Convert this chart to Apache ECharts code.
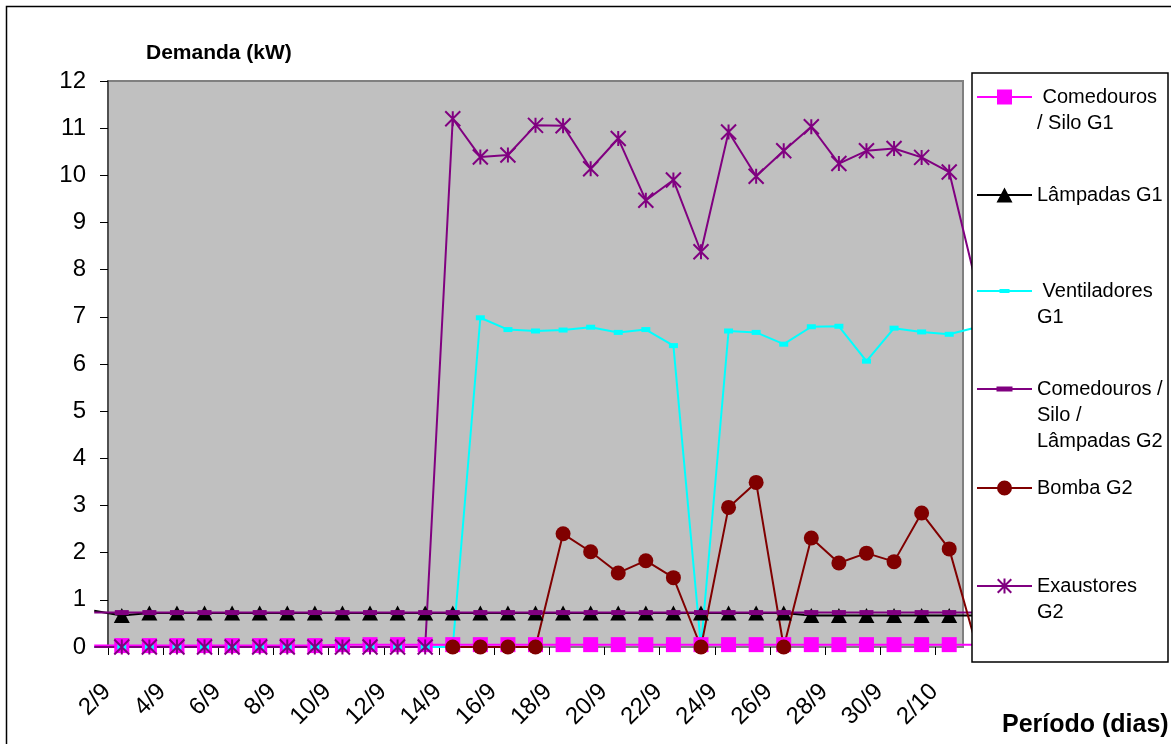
<!DOCTYPE html>
<html>
<head>
<meta charset="utf-8">
<script src="https://cdn.jsdelivr.net/npm/echarts@6/dist/echarts.min.js"></script>
<style>
html,body{margin:0;padding:0;background:#fff;}
#chart{width:1171px;height:744px;}
</style>
</head>
<body>
<div id="chart"></div>
<script>
// Dates: 1/9 and 3/10 are the neighbouring days just outside the visible frame
const dates = ['1/9','2/9','3/9','4/9','5/9','6/9','7/9','8/9','9/9','10/9','11/9','12/9','13/9','14/9','15/9','16/9','17/9','18/9','19/9','20/9','21/9','22/9','23/9','24/9','25/9','26/9','27/9','28/9','29/9','30/9','1/10','2/10','3/10'];
const labelDates = ['2/9','4/9','6/9','8/9','10/9','12/9','14/9','16/9','18/9','20/9','22/9','24/9','26/9','28/9','30/9','2/10'];

const comedourosG1 = [
  0.03,                                                        // 1/9
  0.03, 0.03, 0.03, 0.03, 0.03, 0.03, 0.03, 0.03,              // 2/9-9/9
  0.05, 0.05, 0.05, 0.05, 0.05, 0.05, 0.05, 0.05, 0.05, 0.05,  // 10/9-19/9
  0.05, 0.05, 0.05, 0.05, 0.05, 0.05, 0.05, 0.05, 0.05, 0.05,  // 20/9-29/9
  0.05, 0.05, 0.05,                                            // 30/9-2/10
  0.05                                                         // 3/10
];
const lampadasG1 = [
  0.77,                                                        // 1/9
  0.67, 0.72, 0.72, 0.72, 0.72, 0.72, 0.72, 0.72, 0.72,        // 2/9-10/9
  0.72, 0.72, 0.72, 0.72, 0.72, 0.72, 0.72, 0.72, 0.72, 0.72,  // 11/9-20/9
  0.72, 0.72, 0.72, 0.72, 0.72, 0.72,                          // 21/9-26/9
  0.67, 0.67, 0.67, 0.67,                                      // 27/9-30/9
  0.67, 0.67,                                                  // 1/10-2/10
  0.67                                                         // 3/10
];
const ventiladoresG1 = [
  0,                                                           // 1/9
  0, 0, 0, 0, 0, 0, 0, 0, 0, 0,                                // 2/9-11/9
  0, 0, 0,                                                     // 12/9-14/9
  6.98, 6.73, 6.70, 6.72, 6.78, 6.67, 6.73, 6.39,              // 15/9-22/9
  0,                                                           // 23/9
  6.70, 6.67, 6.42, 6.79, 6.80, 6.06, 6.76,                    // 24/9-30/9
  6.68, 6.63,                                                  // 1/10-2/10
  6.78                                                         // 3/10
];
const comedourosG2 = [
  0.73,                                                        // 1/9
  0.73, 0.73, 0.73, 0.73, 0.73, 0.73, 0.73, 0.73, 0.73, 0.73,  // 2/9-11/9
  0.73, 0.73, 0.73, 0.73, 0.73, 0.73, 0.73, 0.73, 0.73, 0.73,  // 12/9-21/9
  0.73, 0.73, 0.73, 0.73, 0.73, 0.73, 0.73, 0.73, 0.73,        // 22/9-30/9
  0.73, 0.73,                                                  // 1/10-2/10
  0.73                                                         // 3/10
];
const bombaG2 = [
  null,                                                        // 1/9
  null, null, null, null, null, null, null, null, null, null,  // 2/9-11/9
  null, null,                                                  // 12/9-13/9
  0, 0, 0, 0,                                                  // 14/9-17/9
  2.40, 2.02, 1.57, 1.83, 1.47,                                // 18/9-22/9
  0,                                                           // 23/9
  2.96, 3.49,                                                  // 24/9-25/9
  0,                                                           // 26/9
  2.31, 1.78, 1.99, 1.81,                                      // 27/9-30/9
  2.84, 2.08,                                                  // 1/10-2/10
  0                                                            // 3/10
];
const exaustoresG2 = [
  0,                                                           // 1/9
  0, 0, 0, 0, 0, 0, 0, 0, 0, 0,                                // 2/9-11/9
  0, 0,                                                        // 12/9-13/9
  11.20, 10.39, 10.43, 11.06, 11.05, 10.14, 10.78, 9.47, 9.90, // 14/9-22/9
  8.38,                                                        // 23/9
  10.92, 9.98, 10.52, 11.03, 10.25, 10.52, 10.57,              // 24/9-30/9
  10.38, 10.07,                                                // 1/10-2/10
  7.65                                                         // 3/10
];

const FONT = '"Liberation Sans", Arial, sans-serif';

function toData(arr) {
  return arr.map((v, k) => {
    const item = { value: [k - 1, v] };
    if (k === 0 || k === arr.length - 1) item.symbol = 'none';
    return item;
  });
}

const seriesDefs = [
  { name: ' Comedouros\n/ Silo G1', data: comedourosG1, color: '#FF00FF', symbol: 'rect', size: [15, 15], bw: 0,
    icon: 'path://M0,6.5L55,6.5L55,8.5L0,8.5Z M20,0L35,0L35,15L20,15Z', ih: 15, lines: 2, iconY: 97 },
  { name: 'Lâmpadas G1', data: lampadasG1, color: '#000000', symbol: 'triangle', size: [16, 15], bw: 0,
    icon: 'path://M0,6.5L55,6.5L55,8.5L0,8.5Z M27.5,0L35.5,15L19.5,15Z', ih: 15, lines: 1, iconY: 195 },
  { name: ' Ventiladores\nG1', data: ventiladoresG1, color: '#00FFFF', symbol: 'rect', size: [9, 5], bw: 0,
    icon: 'path://M0,1L55,1L55,3L0,3Z M22.5,0L32.5,0L32.5,4L22.5,4Z', ih: 4, lines: 2, iconY: 291 },
  { name: 'Comedouros /\nSilo /\nLâmpadas G2', data: comedourosG2, color: '#800080', symbol: 'rect', size: [14, 5], bw: 0,
    icon: 'path://M0,1.5L55,1.5L55,3.5L0,3.5Z M19.5,0L35.5,0L35.5,5L19.5,5Z', ih: 5, lines: 3, iconY: 389 },
  { name: 'Bomba G2', data: bombaG2, color: '#800000', symbol: 'circle', size: 15, bw: 0,
    icon: 'path://M0,6.5L55,6.5L55,8.5L0,8.5Z M20,7.5A7.5,7.5,0,1,1,35,7.5A7.5,7.5,0,1,1,20,7.5Z', ih: 15, lines: 1, iconY: 488 },
  { name: 'Exaustores\nG2', data: exaustoresG2, color: '#800080', symbol: 'path://M0,0L10,10M10,0L0,10M5,0L5,10', size: 15, bw: 2,
    icon: 'path://M0,6.5L55,6.5L55,8.5L0,8.5Z M26.5,0L28.5,0L28.5,15L26.5,15Z M21.4,0L35,13.6L33.6,15L20,1.4Z M33.6,0L35,1.4L21.4,15L20,13.6Z', ih: 15, lines: 2, iconY: 586 }
];

const LH = 26;
const legends = seriesDefs.map(s => {
  const n = s.lines;
  return {
    z: 60,
    orient: 'vertical',
    left: 977,
    top: s.iconY - (2 * n - 1) * LH / 2,
    padding: 0,
    itemGap: 0,
    itemWidth: 55,
    itemHeight: s.ih,
    symbolKeepAspect: false,
    selectedMode: false,
    itemStyle: { borderWidth: 0 },
    // leading blank lines keep the first text line level with the icon
    formatter: name => '\n'.repeat(n - 1) + name,
    textStyle: { fontFamily: FONT, fontSize: 20, color: '#000', lineHeight: LH,
      backgroundColor: 'rgba(255,255,255,0)' },
    data: [{ name: s.name, icon: s.icon }]
  };
});

const series = seriesDefs.map(s => ({
  name: s.name,
  type: 'line',
  xAxisIndex: 1,
  yAxisIndex: 1,
  data: toData(s.data),
  symbol: s.symbol,
  symbolSize: s.size,
  showAllSymbol: true,
  connectNulls: false,
  lineStyle: { color: s.color, width: 2 },
  itemStyle: { color: s.color, borderColor: s.color, borderWidth: s.bw },
  emphasis: { disabled: true },
  animation: false
}));

// visible plot: 31 days (2/9 .. 2/10) between x=108 and x=963
const PLOT_L = 108, PLOT_R = 963, TOP = 81, BOTTOM = 97;
const STEP = (PLOT_R - PLOT_L) / 31;

const chart = echarts.init(document.getElementById('chart'), null, { renderer: 'canvas' });
chart.setOption({
  animation: false,
  backgroundColor: '#ffffff',
  title: [
    { text: 'Demanda (kW)', left: 146, top: 43, padding: 0,
      textStyle: { fontFamily: FONT, fontSize: 21, fontWeight: 'bold', color: '#000' } },
    { text: 'Período (dias)', left: 1002, top: 713, padding: 0,
      textStyle: { fontFamily: FONT, fontSize: 25, fontWeight: 'bold', color: '#000' } }
  ],
  grid: [
    { left: PLOT_L, right: 1171 - PLOT_R, top: TOP, bottom: BOTTOM,
      show: true, backgroundColor: '#C0C0C0', borderColor: '#808080', borderWidth: 2,
      containLabel: false, outerBoundsMode: 'none' },
    // same scale, one day wider on each side, so lines run on to the neighbouring days
    { left: PLOT_L - STEP, right: 1171 - PLOT_R - STEP, top: TOP, bottom: BOTTOM,
      show: false, containLabel: false, outerBoundsMode: 'none' }
  ],
  xAxis: [
    {
      type: 'value', gridIndex: 0,
      min: -0.5, max: 30.5,
      splitLine: { show: false },
      axisLine: { show: true, onZero: false, lineStyle: { color: '#808080', width: 1 } },
      axisTick: { show: true, inside: false, length: 8, lineStyle: { color: '#000', width: 1 },
        customValues: [-0.5, 1.5, 3.5, 5.5, 7.5, 9.5, 11.5, 13.5, 15.5, 17.5, 19.5, 21.5, 23.5, 25.5, 27.5, 29.5] },
      axisLabel: {
        customValues: labelDates.map(d => dates.indexOf(d) - 1),
        formatter: v => dates[Math.round(v) + 1],
        rotate: 45, margin: 26, padding: [0, 21, 0, 0],
        fontFamily: FONT, fontSize: 24, color: '#000', hideOverlap: false
      }
    },
    {
      type: 'value', gridIndex: 1, show: false,
      min: -1.5, max: 31.5
    }
  ],
  yAxis: [
    {
      type: 'value', gridIndex: 0,
      min: 0, max: 12, interval: 1,
      splitLine: { show: false },
      axisLine: { show: true, onZero: false, lineStyle: { color: '#505050', width: 2 } },
      axisTick: { show: true, inside: false, length: 8, lineStyle: { color: '#000', width: 1 } },
      axisLabel: { fontFamily: FONT, fontSize: 24, color: '#000', margin: 22 }
    },
    {
      type: 'value', gridIndex: 1, show: false,
      min: 0, max: 12, interval: 1
    }
  ],
  legend: legends,
  graphic: {
    elements: [
      { type: 'rect', z: 50, silent: true,
        shape: { x: 972, y: 73, width: 196, height: 589 },
        style: { fill: '#ffffff', stroke: '#000000', lineWidth: 1.5 } },
      { type: 'rect', z: 50, silent: true,
        shape: { x: 6.5, y: 6.5, width: 1200, height: 800 },
        style: { fill: 'none', stroke: '#000000', lineWidth: 1.5 } }
    ]
  },
  series: series
});
</script>
</body>
</html>
